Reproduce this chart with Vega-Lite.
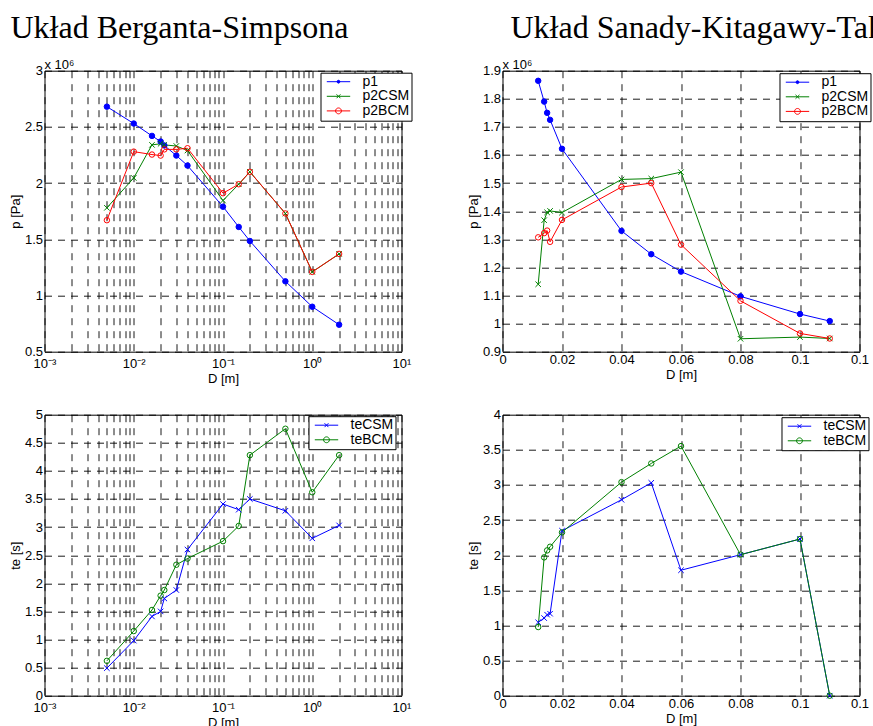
{
  "$schema": "https://vega.github.io/schema/vega-lite/v6.json",
  "background": "white",
  "padding": {"left": 8.5, "top": 10.7, "right": 0, "bottom": 0},
  "datasets": {
    "tl": [
      {"D": 0.005, "s": "p1", "v": 2.68}, {"D": 0.01, "s": "p1", "v": 2.53}, {"D": 0.016, "s": "p1", "v": 2.42}, {"D": 0.02, "s": "p1", "v": 2.37}, {"D": 0.022, "s": "p1", "v": 2.335}, {"D": 0.03, "s": "p1", "v": 2.245}, {"D": 0.04, "s": "p1", "v": 2.156}, {"D": 0.1, "s": "p1", "v": 1.79}, {"D": 0.15, "s": "p1", "v": 1.61}, {"D": 0.2, "s": "p1", "v": 1.485}, {"D": 0.5, "s": "p1", "v": 1.126}, {"D": 1, "s": "p1", "v": 0.9}, {"D": 2, "s": "p1", "v": 0.74},
      {"D": 0.005, "s": "p2CSM", "v": 1.78}, {"D": 0.01, "s": "p2CSM", "v": 2.046}, {"D": 0.016, "s": "p2CSM", "v": 2.34}, {"D": 0.02, "s": "p2CSM", "v": 2.35}, {"D": 0.022, "s": "p2CSM", "v": 2.34}, {"D": 0.03, "s": "p2CSM", "v": 2.33}, {"D": 0.04, "s": "p2CSM", "v": 2.29}, {"D": 0.1, "s": "p2CSM", "v": 1.845}, {"D": 0.15, "s": "p2CSM", "v": 1.99}, {"D": 0.2, "s": "p2CSM", "v": 2.1}, {"D": 0.5, "s": "p2CSM", "v": 1.73}, {"D": 1, "s": "p2CSM", "v": 1.21}, {"D": 2, "s": "p2CSM", "v": 1.37},
      {"D": 0.005, "s": "p2BCM", "v": 1.67}, {"D": 0.01, "s": "p2BCM", "v": 2.28}, {"D": 0.016, "s": "p2BCM", "v": 2.254}, {"D": 0.02, "s": "p2BCM", "v": 2.245}, {"D": 0.022, "s": "p2BCM", "v": 2.3}, {"D": 0.03, "s": "p2BCM", "v": 2.3}, {"D": 0.04, "s": "p2BCM", "v": 2.31}, {"D": 0.1, "s": "p2BCM", "v": 1.91}, {"D": 0.15, "s": "p2BCM", "v": 1.99}, {"D": 0.2, "s": "p2BCM", "v": 2.1}, {"D": 0.5, "s": "p2BCM", "v": 1.73}, {"D": 1, "s": "p2BCM", "v": 1.21}, {"D": 2, "s": "p2BCM", "v": 1.37}
    ],
    "tr": [
      {"D": 0.012, "s": "p1", "v": 1.864}, {"D": 0.014, "s": "p1", "v": 1.79}, {"D": 0.015, "s": "p1", "v": 1.75}, {"D": 0.016, "s": "p1", "v": 1.725}, {"D": 0.02, "s": "p1", "v": 1.622}, {"D": 0.04, "s": "p1", "v": 1.33}, {"D": 0.05, "s": "p1", "v": 1.247}, {"D": 0.06, "s": "p1", "v": 1.185}, {"D": 0.08, "s": "p1", "v": 1.097}, {"D": 0.1, "s": "p1", "v": 1.034}, {"D": 0.11, "s": "p1", "v": 1.009},
      {"D": 0.012, "s": "p2CSM", "v": 1.14}, {"D": 0.014, "s": "p2CSM", "v": 1.368}, {"D": 0.015, "s": "p2CSM", "v": 1.396}, {"D": 0.016, "s": "p2CSM", "v": 1.401}, {"D": 0.02, "s": "p2CSM", "v": 1.395}, {"D": 0.04, "s": "p2CSM", "v": 1.513}, {"D": 0.05, "s": "p2CSM", "v": 1.516}, {"D": 0.06, "s": "p2CSM", "v": 1.539}, {"D": 0.08, "s": "p2CSM", "v": 0.946}, {"D": 0.1, "s": "p2CSM", "v": 0.952}, {"D": 0.11, "s": "p2CSM", "v": 0.947},
      {"D": 0.012, "s": "p2BCM", "v": 1.307}, {"D": 0.014, "s": "p2BCM", "v": 1.322}, {"D": 0.015, "s": "p2BCM", "v": 1.331}, {"D": 0.016, "s": "p2BCM", "v": 1.291}, {"D": 0.02, "s": "p2BCM", "v": 1.369}, {"D": 0.04, "s": "p2BCM", "v": 1.486}, {"D": 0.05, "s": "p2BCM", "v": 1.5}, {"D": 0.06, "s": "p2BCM", "v": 1.281}, {"D": 0.08, "s": "p2BCM", "v": 1.081}, {"D": 0.1, "s": "p2BCM", "v": 0.965}, {"D": 0.11, "s": "p2BCM", "v": 0.947}
    ],
    "bl": [
      {"D": 0.005, "s": "teCSM", "v": 0.49}, {"D": 0.01, "s": "teCSM", "v": 0.98}, {"D": 0.016, "s": "teCSM", "v": 1.41}, {"D": 0.02, "s": "teCSM", "v": 1.5}, {"D": 0.022, "s": "teCSM", "v": 1.73}, {"D": 0.03, "s": "teCSM", "v": 1.88}, {"D": 0.04, "s": "teCSM", "v": 2.6}, {"D": 0.1, "s": "teCSM", "v": 3.41}, {"D": 0.15, "s": "teCSM", "v": 3.31}, {"D": 0.2, "s": "teCSM", "v": 3.5}, {"D": 0.5, "s": "teCSM", "v": 3.29}, {"D": 1, "s": "teCSM", "v": 2.8}, {"D": 2, "s": "teCSM", "v": 3.03},
      {"D": 0.005, "s": "teBCM", "v": 0.62}, {"D": 0.01, "s": "teBCM", "v": 1.15}, {"D": 0.016, "s": "teBCM", "v": 1.525}, {"D": 0.02, "s": "teBCM", "v": 1.78}, {"D": 0.022, "s": "teBCM", "v": 1.88}, {"D": 0.03, "s": "teBCM", "v": 2.33}, {"D": 0.04, "s": "teBCM", "v": 2.44}, {"D": 0.1, "s": "teBCM", "v": 2.75}, {"D": 0.15, "s": "teBCM", "v": 3.02}, {"D": 0.2, "s": "teBCM", "v": 4.28}, {"D": 0.5, "s": "teBCM", "v": 4.75}, {"D": 1, "s": "teBCM", "v": 3.62}, {"D": 2, "s": "teBCM", "v": 4.28}
    ],
    "br": [
      {"D": 0.012, "s": "teCSM", "v": 1.044}, {"D": 0.014, "s": "teCSM", "v": 1.105}, {"D": 0.015, "s": "teCSM", "v": 1.153}, {"D": 0.016, "s": "teCSM", "v": 1.167}, {"D": 0.02, "s": "teCSM", "v": 2.348}, {"D": 0.04, "s": "teCSM", "v": 2.789}, {"D": 0.05, "s": "teCSM", "v": 3.03}, {"D": 0.06, "s": "teCSM", "v": 1.786}, {"D": 0.08, "s": "teCSM", "v": 2.007}, {"D": 0.1, "s": "teCSM", "v": 2.23}, {"D": 0.11, "s": "teCSM", "v": 0},
      {"D": 0.012, "s": "teBCM", "v": 0.977}, {"D": 0.014, "s": "teBCM", "v": 1.969}, {"D": 0.015, "s": "teBCM", "v": 2.068}, {"D": 0.016, "s": "teBCM", "v": 2.12}, {"D": 0.02, "s": "teBCM", "v": 2.325}, {"D": 0.04, "s": "teBCM", "v": 3.04}, {"D": 0.05, "s": "teBCM", "v": 3.306}, {"D": 0.06, "s": "teBCM", "v": 3.553}, {"D": 0.08, "s": "teBCM", "v": 2.007}, {"D": 0.1, "s": "teBCM", "v": 2.23}, {"D": 0.11, "s": "teBCM", "v": 0}
    ]
  },
  "columns": 2,
  "spacing": {"row": 63, "column": 101},
  "bounds": "flush",
  "concat": [
    {
      "width": 357, "height": 281,
      "title": {"text": "Układ Berganta-Simpsona", "anchor": "start", "frame": "group", "dx": -34, "offset": -10.9, "baseline": "alphabetic", "font": "Liberation Serif", "fontSize": 32, "fontWeight": "normal", "color": "#000"},
      "layer": [
        {"data": {"name": "tl"},
         "mark": {"type": "line", "strokeWidth": 1},
         "encoding": {
           "x": {"field": "D", "type": "quantitative", "scale": {"type": "log", "domain": [0.001, 10], "nice": false},
             "axis": {"title": "D [m]", "labelPadding": 6, "titlePadding": 2, "values": [0.001,0.002,0.003,0.004,0.005,0.006,0.007,0.008,0.009,0.01,0.02,0.03,0.04,0.05,0.06,0.07,0.08,0.09,0.1,0.2,0.3,0.4,0.5,0.6,0.7,0.8,0.9,1,2,3,4,5,6,7,8,9,10], "labelExpr": "datum.value == 0.001 ? '10⁻³' : datum.value == 0.01 ? '10⁻²' : datum.value == 0.1 ? '10⁻¹' : datum.value == 1 ? '10⁰' : datum.value == 10 ? '10¹' : ''"}},
           "y": {"field": "v", "type": "quantitative", "scale": {"domain": [0.5, 3], "nice": false, "zero": false},
             "axis": {"title": "p [Pa]", "values": [0.5, 1, 1.5, 2, 2.5, 3], "format": "~g", "labelPadding": 2, "titlePadding": 2}},
           "color": {"field": "s", "type": "nominal", "scale": {"domain": ["p1", "p2CSM", "p2BCM"], "range": ["#0000ff", "#008000", "#ff0000"]}, "legend": null}}},
        {"data": {"name": "tl"},
         "mark": {"type": "point", "filled": false, "size": 30, "strokeWidth": 1, "opacity": 1},
         "encoding": {
           "x": {"field": "D", "type": "quantitative", "scale": {"type": "log", "domain": [0.001, 10], "nice": false},
             "axis": {"title": "D [m]", "labelPadding": 6, "titlePadding": 2, "values": [0.001,0.002,0.003,0.004,0.005,0.006,0.007,0.008,0.009,0.01,0.02,0.03,0.04,0.05,0.06,0.07,0.08,0.09,0.1,0.2,0.3,0.4,0.5,0.6,0.7,0.8,0.9,1,2,3,4,5,6,7,8,9,10], "labelExpr": "datum.value == 0.001 ? '10⁻³' : datum.value == 0.01 ? '10⁻²' : datum.value == 0.1 ? '10⁻¹' : datum.value == 1 ? '10⁰' : datum.value == 10 ? '10¹' : ''"}},
           "y": {"field": "v", "type": "quantitative", "scale": {"domain": [0.5, 3], "nice": false, "zero": false},
             "axis": {"title": "p [Pa]", "values": [0.5, 1, 1.5, 2, 2.5, 3], "format": "~g", "labelPadding": 2, "titlePadding": 2}},
           "stroke": {"field": "s", "type": "nominal", "scale": {"domain": ["p1", "p2CSM", "p2BCM"], "range": ["#0000ff", "#008000", "#ff0000"]}, "legend": null},
           "fill": {"field": "s", "type": "nominal", "scale": {"domain": ["p1", "p2CSM", "p2BCM"], "range": ["#0000ff", "transparent", "transparent"]}, "legend": null},
           "shape": {"field": "s", "type": "nominal", "scale": {"domain": ["p1", "p2CSM", "p2BCM"], "range": ["circle", "M-1,-1L1,1M-1,1L1,-1", "circle"]}, "legend": null}}},
        {"data": {"name": "tl"},
         "transform": [{"filter": "false"}],
         "mark": {"type": "point", "filled": false, "strokeWidth": 1, "opacity": 1},
         "encoding": {
           "stroke": {"field": "s", "type": "nominal", "scale": {"domain": ["p1", "p2CSM", "p2BCM"], "range": ["#0000ff", "#008000", "#ff0000"]}, "legend": {"orient": "none", "legendX": 276, "legendY": 2, "labelExpr": "datum.label + '\u00a0\u00a0'"}},
           "fill": {"field": "s", "type": "nominal", "scale": {"domain": ["p1", "p2CSM", "p2BCM"], "range": ["#0000ff", "transparent", "transparent"]}, "legend": {"orient": "none", "legendX": 276, "legendY": 2, "labelExpr": "datum.label + '\u00a0\u00a0'"}},
           "shape": {"field": "s", "type": "nominal", "scale": {"domain": ["p1", "p2CSM", "p2BCM"], "range": ["M-1.8,0H1.8M-0.22,0A0.22,0.22,0,1,1,0.22,0A0.22,0.22,0,1,1,-0.22,0", "M-1.8,0H1.8M-0.3,-0.3L0.3,0.3M-0.3,0.3L0.3,-0.3", "M-1.8,0H1.8M-0.45,0A0.45,0.45,0,1,1,0.45,0A0.45,0.45,0,1,1,-0.45,0"]}, "legend": {"orient": "none", "legendX": 276, "legendY": 2, "labelExpr": "datum.label + '\u00a0\u00a0'"}}}},
        {"data": {"values": [{"t": "x 10⁶"}]},
         "mark": {"type": "text", "align": "left", "baseline": "alphabetic", "dy": -2, "clip": false, "font": "Liberation Sans", "fontSize": 13, "color": "#000"},
         "encoding": {
           "x": {"datum": 0.001, "type": "quantitative", "scale": {"type": "log", "domain": [0.001, 10], "nice": false},
             "axis": {"title": "D [m]", "labelPadding": 6, "titlePadding": 2, "values": [0.001,0.002,0.003,0.004,0.005,0.006,0.007,0.008,0.009,0.01,0.02,0.03,0.04,0.05,0.06,0.07,0.08,0.09,0.1,0.2,0.3,0.4,0.5,0.6,0.7,0.8,0.9,1,2,3,4,5,6,7,8,9,10], "labelExpr": "datum.value == 0.001 ? '10⁻³' : datum.value == 0.01 ? '10⁻²' : datum.value == 0.1 ? '10⁻¹' : datum.value == 1 ? '10⁰' : datum.value == 10 ? '10¹' : ''"}},
           "y": {"datum": 3, "type": "quantitative", "scale": {"domain": [0.5, 3], "nice": false, "zero": false},
             "axis": {"title": "p [Pa]", "values": [0.5, 1, 1.5, 2, 2.5, 3], "format": "~g", "labelPadding": 2, "titlePadding": 2}},
           "text": {"field": "t", "type": "nominal"}}}
      ],
      "resolve": {"scale": {"stroke": "independent", "fill": "independent", "shape": "independent"}}
    },
    {
      "width": 357, "height": 281,
      "title": {"text": "Układ Sanady-Kitagawy-Takahashi", "anchor": "start", "frame": "group", "dx": 8, "offset": -10.9, "baseline": "alphabetic", "font": "Liberation Serif", "fontSize": 32, "fontWeight": "normal", "color": "#000"},
      "layer": [
        {"data": {"name": "tr"},
         "mark": {"type": "line", "strokeWidth": 1},
         "encoding": {
           "x": {"field": "D", "type": "quantitative", "scale": {"domain": [0, 0.12], "nice": false, "zero": false},
             "axis": {"title": "D [m]", "values": [0, 0.02, 0.04, 0.06, 0.08, 0.1, 0.12], "format": "~g", "labelPadding": 2, "titlePadding": 2}},
           "y": {"field": "v", "type": "quantitative", "scale": {"domain": [0.9, 1.9], "nice": false, "zero": false},
             "axis": {"title": "p [Pa]", "values": [0.9, 1, 1.1, 1.2, 1.3, 1.4, 1.5, 1.6, 1.7, 1.8, 1.9], "format": "~g", "labelPadding": 2, "titlePadding": 2}},
           "color": {"field": "s", "type": "nominal", "scale": {"domain": ["p1", "p2CSM", "p2BCM"], "range": ["#0000ff", "#008000", "#ff0000"]}, "legend": null}}},
        {"data": {"name": "tr"},
         "mark": {"type": "point", "filled": false, "size": 30, "strokeWidth": 1, "opacity": 1},
         "encoding": {
           "x": {"field": "D", "type": "quantitative", "scale": {"domain": [0, 0.12], "nice": false, "zero": false},
             "axis": {"title": "D [m]", "values": [0, 0.02, 0.04, 0.06, 0.08, 0.1, 0.12], "format": "~g", "labelPadding": 2, "titlePadding": 2}},
           "y": {"field": "v", "type": "quantitative", "scale": {"domain": [0.9, 1.9], "nice": false, "zero": false},
             "axis": {"title": "p [Pa]", "values": [0.9, 1, 1.1, 1.2, 1.3, 1.4, 1.5, 1.6, 1.7, 1.8, 1.9], "format": "~g", "labelPadding": 2, "titlePadding": 2}},
           "stroke": {"field": "s", "type": "nominal", "scale": {"domain": ["p1", "p2CSM", "p2BCM"], "range": ["#0000ff", "#008000", "#ff0000"]}, "legend": null},
           "fill": {"field": "s", "type": "nominal", "scale": {"domain": ["p1", "p2CSM", "p2BCM"], "range": ["#0000ff", "transparent", "transparent"]}, "legend": null},
           "shape": {"field": "s", "type": "nominal", "scale": {"domain": ["p1", "p2CSM", "p2BCM"], "range": ["circle", "M-1,-1L1,1M-1,1L1,-1", "circle"]}, "legend": null}}},
        {"data": {"name": "tr"},
         "transform": [{"filter": "false"}],
         "mark": {"type": "point", "filled": false, "strokeWidth": 1, "opacity": 1},
         "encoding": {
           "stroke": {"field": "s", "type": "nominal", "scale": {"domain": ["p1", "p2CSM", "p2BCM"], "range": ["#0000ff", "#008000", "#ff0000"]}, "legend": {"orient": "none", "legendX": 277, "legendY": 2.5, "labelExpr": "datum.label + '\u00a0\u00a0'"}},
           "fill": {"field": "s", "type": "nominal", "scale": {"domain": ["p1", "p2CSM", "p2BCM"], "range": ["#0000ff", "transparent", "transparent"]}, "legend": {"orient": "none", "legendX": 277, "legendY": 2.5, "labelExpr": "datum.label + '\u00a0\u00a0'"}},
           "shape": {"field": "s", "type": "nominal", "scale": {"domain": ["p1", "p2CSM", "p2BCM"], "range": ["M-1.8,0H1.8M-0.22,0A0.22,0.22,0,1,1,0.22,0A0.22,0.22,0,1,1,-0.22,0", "M-1.8,0H1.8M-0.3,-0.3L0.3,0.3M-0.3,0.3L0.3,-0.3", "M-1.8,0H1.8M-0.45,0A0.45,0.45,0,1,1,0.45,0A0.45,0.45,0,1,1,-0.45,0"]}, "legend": {"orient": "none", "legendX": 277, "legendY": 2.5, "labelExpr": "datum.label + '\u00a0\u00a0'"}}}},
        {"data": {"values": [{"t": "x 10⁶"}]},
         "mark": {"type": "text", "align": "left", "baseline": "alphabetic", "dy": -2, "clip": false, "font": "Liberation Sans", "fontSize": 13, "color": "#000"},
         "encoding": {
           "x": {"datum": 0, "type": "quantitative", "scale": {"domain": [0, 0.12], "nice": false, "zero": false},
             "axis": {"title": "D [m]", "values": [0, 0.02, 0.04, 0.06, 0.08, 0.1, 0.12], "format": "~g", "labelPadding": 2, "titlePadding": 2}},
           "y": {"datum": 1.9, "type": "quantitative", "scale": {"domain": [0.9, 1.9], "nice": false, "zero": false},
             "axis": {"title": "p [Pa]", "values": [0.9, 1, 1.1, 1.2, 1.3, 1.4, 1.5, 1.6, 1.7, 1.8, 1.9], "format": "~g", "labelPadding": 2, "titlePadding": 2}},
           "text": {"field": "t", "type": "nominal"}}}
      ],
      "resolve": {"scale": {"stroke": "independent", "fill": "independent", "shape": "independent"}}
    },
    {
      "width": 357, "height": 281,
      "layer": [
        {"data": {"name": "bl"},
         "mark": {"type": "line", "strokeWidth": 1},
         "encoding": {
           "x": {"field": "D", "type": "quantitative", "scale": {"type": "log", "domain": [0.001, 10], "nice": false},
             "axis": {"title": "D [m]", "labelPadding": 6, "titlePadding": 2, "values": [0.001,0.002,0.003,0.004,0.005,0.006,0.007,0.008,0.009,0.01,0.02,0.03,0.04,0.05,0.06,0.07,0.08,0.09,0.1,0.2,0.3,0.4,0.5,0.6,0.7,0.8,0.9,1,2,3,4,5,6,7,8,9,10], "labelExpr": "datum.value == 0.001 ? '10⁻³' : datum.value == 0.01 ? '10⁻²' : datum.value == 0.1 ? '10⁻¹' : datum.value == 1 ? '10⁰' : datum.value == 10 ? '10¹' : ''"}},
           "y": {"field": "v", "type": "quantitative", "scale": {"domain": [0, 5], "nice": false},
             "axis": {"title": "te [s]", "values": [0, 0.5, 1, 1.5, 2, 2.5, 3, 3.5, 4, 4.5, 5], "format": "~g", "labelPadding": 2, "titlePadding": 2}},
           "color": {"field": "s", "type": "nominal", "scale": {"domain": ["teCSM", "teBCM"], "range": ["#0000ff", "#008000"]}, "legend": null}}},
        {"data": {"name": "bl"},
         "mark": {"type": "point", "filled": false, "size": 30, "strokeWidth": 1, "opacity": 1},
         "encoding": {
           "x": {"field": "D", "type": "quantitative", "scale": {"type": "log", "domain": [0.001, 10], "nice": false},
             "axis": {"title": "D [m]", "labelPadding": 6, "titlePadding": 2, "values": [0.001,0.002,0.003,0.004,0.005,0.006,0.007,0.008,0.009,0.01,0.02,0.03,0.04,0.05,0.06,0.07,0.08,0.09,0.1,0.2,0.3,0.4,0.5,0.6,0.7,0.8,0.9,1,2,3,4,5,6,7,8,9,10], "labelExpr": "datum.value == 0.001 ? '10⁻³' : datum.value == 0.01 ? '10⁻²' : datum.value == 0.1 ? '10⁻¹' : datum.value == 1 ? '10⁰' : datum.value == 10 ? '10¹' : ''"}},
           "y": {"field": "v", "type": "quantitative", "scale": {"domain": [0, 5], "nice": false},
             "axis": {"title": "te [s]", "values": [0, 0.5, 1, 1.5, 2, 2.5, 3, 3.5, 4, 4.5, 5], "format": "~g", "labelPadding": 2, "titlePadding": 2}},
           "stroke": {"field": "s", "type": "nominal", "scale": {"domain": ["teCSM", "teBCM"], "range": ["#0000ff", "#008000"]}, "legend": null},
           "shape": {"field": "s", "type": "nominal", "scale": {"domain": ["teCSM", "teBCM"], "range": ["M-1,-1L1,1M-1,1L1,-1", "circle"]}, "legend": null}}},
        {"data": {"name": "bl"},
         "transform": [{"filter": "false"}],
         "mark": {"type": "point", "filled": false, "strokeWidth": 1, "opacity": 1},
         "encoding": {
           "stroke": {"field": "s", "type": "nominal", "scale": {"domain": ["teCSM", "teBCM"], "range": ["#0000ff", "#008000"]}, "legend": {"orient": "none", "legendX": 264, "legendY": 1.5, "labelExpr": "datum.label + '\u00a0\u00a0'"}},
           "shape": {"field": "s", "type": "nominal", "scale": {"domain": ["teCSM", "teBCM"], "range": ["M-1.8,0H1.8M-0.3,-0.3L0.3,0.3M-0.3,0.3L0.3,-0.3", "M-1.8,0H1.8M-0.45,0A0.45,0.45,0,1,1,0.45,0A0.45,0.45,0,1,1,-0.45,0"]}, "legend": {"orient": "none", "legendX": 264, "legendY": 1.5, "labelExpr": "datum.label + '\u00a0\u00a0'"}}}}
      ],
      "resolve": {"scale": {"stroke": "independent", "shape": "independent"}}
    },
    {
      "width": 357, "height": 281,
      "layer": [
        {"data": {"name": "br"},
         "mark": {"type": "line", "strokeWidth": 1},
         "encoding": {
           "x": {"field": "D", "type": "quantitative", "scale": {"domain": [0, 0.12], "nice": false, "zero": false},
             "axis": {"title": "D [m]", "values": [0, 0.02, 0.04, 0.06, 0.08, 0.1, 0.12], "format": "~g", "labelPadding": 2, "titlePadding": 2}},
           "y": {"field": "v", "type": "quantitative", "scale": {"domain": [0, 4], "nice": false},
             "axis": {"title": "te [s]", "values": [0, 0.5, 1, 1.5, 2, 2.5, 3, 3.5, 4], "format": "~g", "labelPadding": 2, "titlePadding": 2}},
           "color": {"field": "s", "type": "nominal", "scale": {"domain": ["teCSM", "teBCM"], "range": ["#0000ff", "#008000"]}, "legend": null}}},
        {"data": {"name": "br"},
         "mark": {"type": "point", "filled": false, "size": 30, "strokeWidth": 1, "opacity": 1},
         "encoding": {
           "x": {"field": "D", "type": "quantitative", "scale": {"domain": [0, 0.12], "nice": false, "zero": false},
             "axis": {"title": "D [m]", "values": [0, 0.02, 0.04, 0.06, 0.08, 0.1, 0.12], "format": "~g", "labelPadding": 2, "titlePadding": 2}},
           "y": {"field": "v", "type": "quantitative", "scale": {"domain": [0, 4], "nice": false},
             "axis": {"title": "te [s]", "values": [0, 0.5, 1, 1.5, 2, 2.5, 3, 3.5, 4], "format": "~g", "labelPadding": 2, "titlePadding": 2}},
           "stroke": {"field": "s", "type": "nominal", "scale": {"domain": ["teCSM", "teBCM"], "range": ["#0000ff", "#008000"]}, "legend": null},
           "shape": {"field": "s", "type": "nominal", "scale": {"domain": ["teCSM", "teBCM"], "range": ["M-1,-1L1,1M-1,1L1,-1", "circle"]}, "legend": null}}},
        {"data": {"name": "br"},
         "transform": [{"filter": "false"}],
         "mark": {"type": "point", "filled": false, "strokeWidth": 1, "opacity": 1},
         "encoding": {
           "stroke": {"field": "s", "type": "nominal", "scale": {"domain": ["teCSM", "teBCM"], "range": ["#0000ff", "#008000"]}, "legend": {"orient": "none", "legendX": 279, "legendY": 2.5, "labelExpr": "datum.label + '\u00a0\u00a0'"}},
           "shape": {"field": "s", "type": "nominal", "scale": {"domain": ["teCSM", "teBCM"], "range": ["M-1.8,0H1.8M-0.3,-0.3L0.3,0.3M-0.3,0.3L0.3,-0.3", "M-1.8,0H1.8M-0.45,0A0.45,0.45,0,1,1,0.45,0A0.45,0.45,0,1,1,-0.45,0"]}, "legend": {"orient": "none", "legendX": 279, "legendY": 2.5, "labelExpr": "datum.label + '\u00a0\u00a0'"}}}}
      ],
      "resolve": {"scale": {"stroke": "independent", "shape": "independent"}}
    }
  ],
  "resolve": {
    "scale": {"x": "independent", "y": "independent", "color": "independent", "stroke": "independent", "fill": "independent", "shape": "independent"},
    "axis": {"x": "independent", "y": "independent"}
  },
  "config": {
    "view": {"stroke": "#000", "strokeWidth": 1},
    "axis": {"domain": false, "ticks": false, "grid": true, "gridColor": "#000", "gridDash": [7, 6], "gridWidth": 1, "gridOpacity": 0.9,
      "labelFont": "Liberation Sans", "labelFontSize": 13, "labelColor": "#000", "labelFlush": false, "labelOverlap": false,
      "titleFont": "Liberation Sans", "titleFontSize": 13, "titleFontWeight": "normal", "titleColor": "#000"},
    "legend": {"title": null, "padding": 2, "symbolOffset": 9, "labelOffset": 17, "rowPadding": 0.6, "symbolSize": 169, "symbolStrokeWidth": 1,
      "labelFont": "Liberation Sans", "labelFontSize": 14, "labelColor": "#000", "strokeColor": "#000", "fillColor": "#fff", "cornerRadius": 0}
  }
}
